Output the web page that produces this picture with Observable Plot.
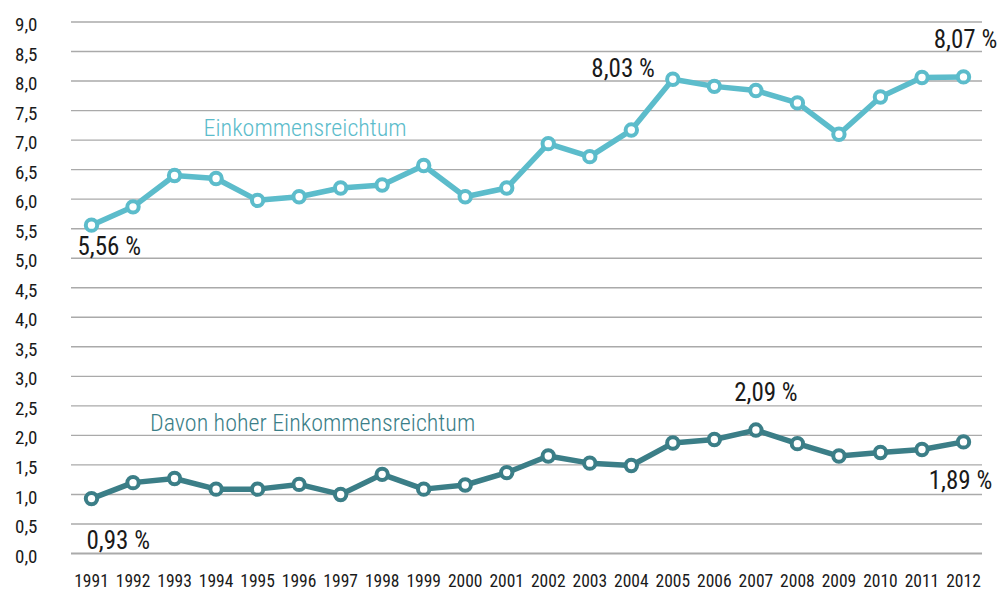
<!DOCTYPE html>
<html><head><meta charset="utf-8">
<script src="https://cdn.jsdelivr.net/npm/d3@7"></script>
<script src="https://cdn.jsdelivr.net/npm/@observablehq/plot@0.6"></script>
<style>
body{margin:0;background:#fff;}
#chart svg{display:block;}
</style>
</head><body><div id="chart"></div>
<script>
const years = [1991,1992,1993,1994,1995,1996,1997,1998,1999,2000,2001,2002,2003,2004,2005,2006,2007,2008,2009,2010,2011,2012];
const reich = [5.56,5.87,6.40,6.35,5.98,6.04,6.19,6.24,6.57,6.04,6.19,6.94,6.72,7.17,8.03,7.91,7.84,7.63,7.10,7.73,8.06,8.07];
const hoch = [0.93,1.20,1.27,1.09,1.09,1.17,1.00,1.34,1.09,1.16,1.37,1.65,1.53,1.49,1.87,1.93,2.09,1.86,1.65,1.71,1.76,1.89];
const yTicks = [0,0.5,1,1.5,2,2.5,3,3.5,4,4.5,5,5.5,6,6.5,7,7.5,8,8.5,9];
const seriesNames = ["Einkommensreichtum","Davon hoher Einkommensreichtum"];
const colors = ["#5cbccb","#3b7e87"];

const fmt = v => v.toFixed(1).replace(".", ",");
const pct = v => v.toFixed(2).replace(".", ",") + " %";

const upper = years.map((x,i)=>({x, y: reich[i]}));
const lower = years.map((x,i)=>({x, y: hoch[i]}));

const notes = [
  {d: upper[0], anchor:"start", dx:-14, dy:30},
  {d: upper[14], anchor:"end", dx:-18, dy:-2},
  {d: upper[21], anchor:"middle", dx:2, dy:-29},
  {d: lower[0], anchor:"start", dx:-5, dy:50},
  {d: lower[16], anchor:"middle", dx:10, dy:-29},
  {d: lower[21], anchor:"middle", dx:-3, dy:47}
];

const font = "'Roboto Condensed','Liberation Sans Narrow','Arial Narrow','DejaVu Sans Condensed',sans-serif";

const chart = Plot.plot({
  width: 999,
  height: 592,
  marginLeft: 71,
  marginRight: 17,
  marginTop: 21.5,
  marginBottom: 39,
  insetLeft: 20,
  insetRight: 19,
  style: {fontFamily: font, background: "#fff", fontWeight: 400},
  x: {domain: [1991, 2012], axis: null},
  y: {domain: [0, 9], axis: null},
  marks: [
    Plot.ruleY(yTicks, {stroke: "#aaaaaa", strokeWidth: d => d === 0 ? 2 : 1.4}),
    Plot.text(yTicks, {y: d => d, frameAnchor: "left", text: fmt, textAnchor: "end", dx: -34, dy: 3, fontSize: 19, fill: "#1a1a1a"}),
    Plot.text(years, {x: d => d, frameAnchor: "bottom", text: d => String(d), dy: 33, fontSize: 17.5, fill: "#1a1a1a"}),
    Plot.line(upper, {x: "x", y: "y", stroke: colors[0], strokeWidth: 5.5, strokeLinejoin: "round"}),
    Plot.line(lower, {x: "x", y: "y", stroke: colors[1], strokeWidth: 5.5, strokeLinejoin: "round"}),
    Plot.dot(upper, {x: "x", y: "y", r: 5.7, fill: "#fff", stroke: colors[0], strokeWidth: 4}),
    Plot.dot(lower, {x: "x", y: "y", r: 5.7, fill: "#fff", stroke: colors[1], strokeWidth: 4}),
    Plot.text([upper[5]], {x: "x", y: "y", text: () => seriesNames[0], textAnchor: "middle", lineAnchor: "bottom", dx: 6, dy: -61, fontSize: 24, fontWeight: 300, fill: colors[0]}),
    Plot.text([lower[5]], {x: "x", y: "y", text: () => seriesNames[1], textAnchor: "middle", lineAnchor: "bottom", dx: 13.5, dy: -53, fontSize: 24, fontWeight: 300, fill: colors[1]}),
    ...notes.map(n => Plot.text([n.d], {x: "x", y: "y", text: d => pct(d.y), textAnchor: n.anchor, lineAnchor: "bottom", dx: n.dx, dy: n.dy, fontSize: 25, fontWeight: 400, fill: "#1a1a1a"}))
  ]
});
document.getElementById("chart").appendChild(chart);
</script>
</body></html>
